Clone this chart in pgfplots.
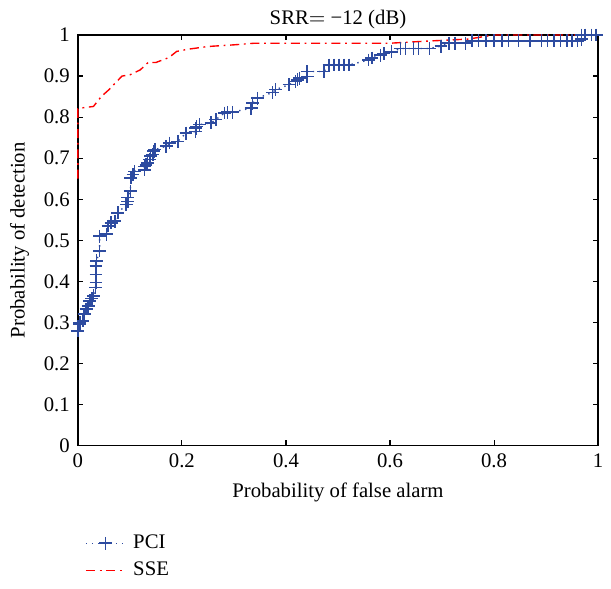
\documentclass[border=0pt]{standalone}
\usepackage{pgfplots}
\pgfplotsset{compat=1.18}
\usepackage{fontspec}
\setmainfont{Liberation Serif}
\definecolor{pciblue}{RGB}{45,75,160}
\begin{document}
\begin{tikzpicture}
\begin{axis}[
  scale only axis,
  width=226pt, height=178.4pt,
  xmin=0, xmax=1, ymin=0, ymax=1,
  xtick={0,0.2,0.4,0.6,0.8,1},
  ytick={0,0.1,0.2,0.3,0.4,0.5,0.6,0.7,0.8,0.9,1},
  xticklabels={0,0.2,0.4,0.6,0.8,1},
  yticklabels={0,0.1,0.2,0.3,0.4,0.5,0.6,0.7,0.8,0.9,1},
  /pgf/number format/assume math mode=true,
  tick align=inside,
  major tick length=2.3pt,
  tick style={black, line width=0.5pt},
  axis line style={black, line width=0.6pt},
  ticklabel style={font=\fontsize{9}{10.5}\selectfont},
  label style={font=\fontsize{9}{10.5}\selectfont},
  title style={font=\fontsize{9}{10.5}\selectfont, yshift=-7pt},
  title={SRR$=$ \textminus12 (dB)},
  xlabel={Probability of false alarm},
  ylabel={Probability of detection},
  xlabel style={yshift=0.5pt},
  ylabel style={yshift=-0.5pt},
  legend style={draw=none, fill=none, at={(rel axis cs:0.0,-0.193)}, anchor=north west,
    font=\fontsize{9}{10.5}\selectfont, row sep=0.5pt,
    /tikz/every odd column/.append style={column sep=1.2pt}},
  legend cell align=left,
  clip=false,
]
\addplot[color=pciblue, dotted, line width=0.6pt, mark=+, mark size=2.8pt,
  mark options={solid, line width=0.7pt}] coordinates {
(0.000,0.280)(0.004,0.296)(0.004,0.300)(0.010,0.304)(0.012,0.320)(0.016,0.333)
(0.020,0.340)(0.023,0.353)(0.027,0.358)(0.030,0.365)(0.034,0.385)(0.035,0.397)
(0.035,0.417)(0.035,0.437)(0.036,0.450)(0.042,0.474)(0.042,0.510)(0.055,0.515)
(0.058,0.535)(0.064,0.543)(0.071,0.547)(0.077,0.567)(0.093,0.587)(0.096,0.595)
(0.096,0.604)(0.101,0.620)(0.102,0.652)(0.106,0.660)(0.109,0.668)(0.128,0.672)
(0.128,0.680)(0.131,0.684)(0.134,0.689)(0.138,0.697)(0.140,0.705)(0.144,0.709)
(0.146,0.717)(0.148,0.721)(0.170,0.729)(0.176,0.737)(0.192,0.741)(0.208,0.761)
(0.226,0.765)(0.227,0.773)(0.228,0.777)(0.234,0.782)(0.256,0.786)(0.265,0.794)
(0.282,0.810)(0.288,0.812)(0.297,0.812)(0.333,0.822)(0.336,0.834)(0.345,0.846)
(0.374,0.860)(0.380,0.867)(0.406,0.879)(0.418,0.887)(0.422,0.891)(0.426,0.895)
(0.441,0.899)(0.441,0.911)(0.473,0.911)(0.483,0.927)(0.492,0.927)(0.502,0.927)
(0.511,0.927)(0.521,0.927)(0.559,0.939)(0.565,0.944)(0.582,0.951)(0.588,0.955)
(0.603,0.959)(0.620,0.967)(0.630,0.967)(0.645,0.967)(0.655,0.967)(0.676,0.967)
(0.698,0.973)(0.713,0.980)(0.725,0.980)(0.745,0.980)(0.757,0.986)(0.770,0.986)
(0.785,0.986)(0.800,0.986)(0.815,0.986)(0.828,0.986)(0.847,0.986)(0.869,0.986)
(0.891,0.986)(0.903,0.986)(0.915,0.986)(0.928,0.986)(0.940,0.986)(0.950,0.986)
(0.960,0.986)(0.968,0.990)(0.968,1.000)(0.975,1.000)(0.987,1.000)(0.996,1.000)
};
\addlegendentry{PCI}
\addplot[color=red, line width=0.6pt, dash pattern=on 4pt off 2pt on 0.8pt off 2pt] coordinates {
(0,0.65)(0,0.82)(0.005,0.822)(0.03,0.826)(0.045,0.85)(0.06,0.867)(0.085,0.90)
(0.10,0.903)(0.12,0.915)(0.135,0.933)(0.15,0.933)(0.175,0.945)(0.19,0.96)
(0.21,0.965)(0.25,0.972)(0.30,0.976)(0.34,0.980)(0.60,0.980)(0.67,0.985)
(0.75,0.990)(0.80,1.0)(1,1)
};
\addlegendentry{SSE}
\coordinate (bl) at (rel axis cs:0,0);
\coordinate (tr) at (rel axis cs:1,1);
\end{axis}
\path (bl) ++(-33.8pt,-56.7pt) coordinate (BL);
\path (tr) ++(4.8pt,15.2pt) coordinate (TR);
\path (BL) rectangle (TR);
\end{tikzpicture}
\end{document}
